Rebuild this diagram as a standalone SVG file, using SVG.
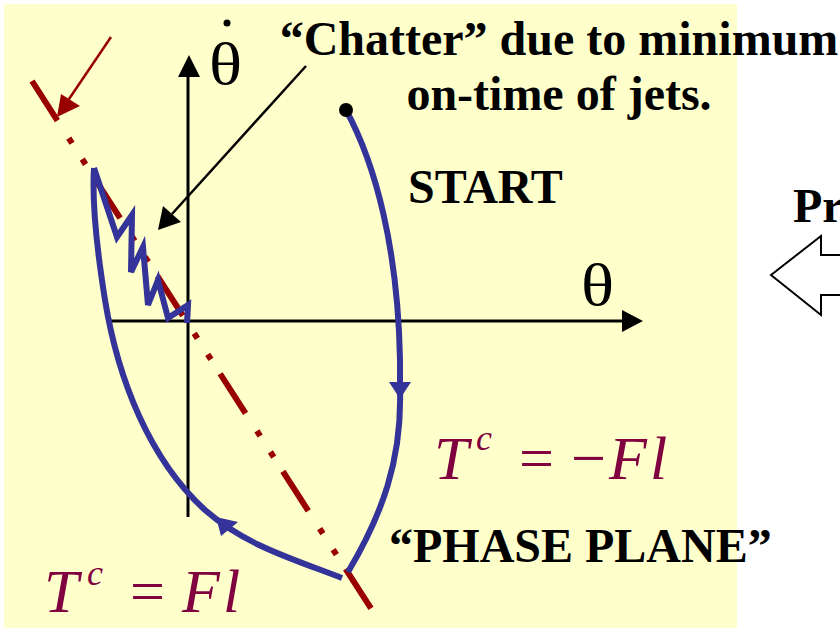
<svg xmlns="http://www.w3.org/2000/svg" width="840" height="628" viewBox="0 0 840 628">
<style>
.lbl{font-family:"Liberation Serif","Times New Roman",serif;font-weight:bold;font-size:48px;fill:#000}
.math{font-family:"Liberation Serif","Times New Roman",serif;font-style:italic;fill:#800040}
.mop{font-family:"Liberation Serif","Times New Roman",serif;fill:#800040}
.greek{font-family:"Liberation Serif","Times New Roman",serif;font-size:60px;fill:#000}
.axis{stroke:#000;stroke-width:3;fill:none}
.traj{stroke:#333399;stroke-width:6;fill:none;stroke-linejoin:miter}
</style>
<rect x="0" y="0" width="840" height="628" fill="#fff"/>
<rect x="4" y="4" width="733" height="624" fill="#FFFFCC"/>
<g id="connectors">
  <line class="axis" x1="188" y1="76" x2="188" y2="517"/>
  <polygon points="189,55 178,77 200,77" fill="#000"/>
  <line class="axis" x1="108" y1="321" x2="624" y2="321"/>
  <polygon points="643,321 622,310 622,332" fill="#000"/>
  <line x1="32" y1="81" x2="372" y2="610" stroke="#990000" stroke-width="6" stroke-dasharray="47 21 6 19 6 17"/>
  <line x1="111" y1="37" x2="67" y2="102" stroke="#990000" stroke-width="2.5"/>
  <polygon points="57,117 61,94 80,106" fill="#990000"/>
  <line x1="306" y1="66" x2="172" y2="214" stroke="#000" stroke-width="2.5"/>
  <polygon points="158,230 163,206 181,222" fill="#000"/>
  <path class="traj" d="M346,110 C 376,165 398,250 400,360 L 400,390 C 402,460 382,515 348,572"/>
  <polygon points="400,399 389,382 411,382" fill="#333399"/>
  <path class="traj" d="M342,578 C 290,558 245,545 205,510 C 150,460 118,380 105,300 C 97,250 92,200 94,168"/>
  <polygon points="216,517 221,536 238,522" fill="#333399"/>
  <polyline class="traj" points="94,168 117,237 132,215 131,272 143,247 148,305 158,280 168,318 188,305 187,323"/>
  <circle cx="346" cy="110" r="7" fill="#000"/>
</g>
<g id="axis-labels">
  <text class="greek" x="209" y="84" transform="translate(209 84) scale(1.15 1) translate(-209 -84)">θ</text>
  <circle cx="227" cy="23" r="3.5" fill="#000"/>
  <text class="greek" x="581" y="305" transform="translate(581 305) scale(1.15 1) translate(-581 -305)">θ</text>
</g>
<g id="chatter-label">
  <text class="lbl" x="559" y="55" text-anchor="middle">“Chatter” due to minimum</text>
  <text class="lbl" x="559" y="110" text-anchor="middle">on-time of jets.</text>
</g>
<g id="start-label"><text class="lbl" x="408" y="203">START</text></g>
<g id="phase-label"><text class="lbl" x="389" y="562">“PHASE PLANE”</text></g>
<g id="pr-label">
  <text class="lbl" x="793" y="222">Pr</text>
  <polygon points="771,275 821,236 821,255 845,255 845,295 821,295 821,315" fill="#fff" stroke="#000" stroke-width="2"/>
</g>
<g id="eq-upper">
  <text class="math" x="434" y="479" font-size="62">T</text>
  <text class="math" x="476" y="450" font-size="36">c</text>
  <text class="mop" x="519" y="479" font-size="62">=</text>
  <text class="mop" x="571" y="479" font-size="62">−</text>
  <text class="math" x="609" y="479" font-size="62">F</text>
  <text class="math" x="650" y="479" font-size="62">l</text>
</g>
<g id="eq-lower">
  <text class="math" x="44" y="612" font-size="62">T</text>
  <text class="math" x="87" y="585" font-size="36">c</text>
  <text class="mop" x="130" y="612" font-size="62">=</text>
  <text class="math" x="182" y="612" font-size="62">F</text>
  <text class="math" x="223" y="612" font-size="62">l</text>
</g>
</svg>
